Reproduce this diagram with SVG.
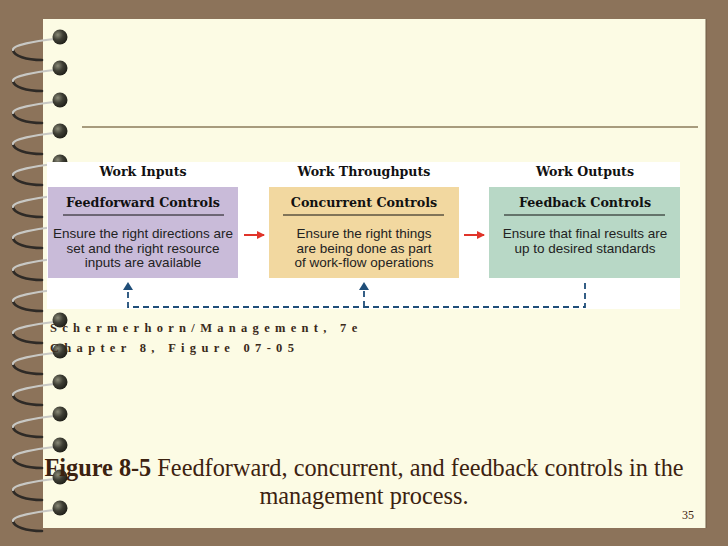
<svg xmlns="http://www.w3.org/2000/svg" width="728" height="546" viewBox="0 0 728 546">
<defs>
<style>
.hdr{font-family:"DejaVu Serif",serif;font-weight:bold;font-size:12.6px;fill:#111;text-anchor:middle}
.ttl{font-family:"DejaVu Serif",serif;font-weight:bold;font-size:12.7px;fill:#111;text-anchor:middle}
.body{font-family:"Liberation Sans",Arial,sans-serif;font-size:13.5px;fill:#222;text-anchor:middle}
.attr{font-family:"Liberation Serif","Times New Roman",serif;font-weight:bold;font-size:12.5px;fill:#3a2a1a;letter-spacing:5.3px}
.cap{font-family:"Liberation Serif","Times New Roman",serif;font-size:24.3px;fill:#3c2210}
.rule{stroke:#111;stroke-width:1}
.dash{stroke:#1f4e79;stroke-width:1.8;fill:none;stroke-dasharray:6 4}
.wtop{fill:none;stroke:#c8c8c4;stroke-width:2.2;stroke-linecap:round}
.wbot{fill:none;stroke:#2e2a26;stroke-width:2.6;stroke-linecap:round}
</style>
<radialGradient id="ball" cx="0.35" cy="0.35" r="0.7">
<stop offset="0" stop-color="#8a8a78"/>
<stop offset="0.5" stop-color="#3e3e34"/>
<stop offset="1" stop-color="#1e1e18"/>
</radialGradient>
<g id="ringShape">
<path class="wbot" d="M13 13 C14 19 26 23 42 23"/>
<path class="wtop" d="M54 2 C36 4 12 8 13 13"/>
<circle cx="60" cy="0" r="7.5" fill="url(#ball)"/>
</g>
<marker id="redHead" markerWidth="8" markerHeight="8" refX="7" refY="4" orient="auto" markerUnits="userSpaceOnUse">
<path d="M0 0 L8 4 L0 8 Z" fill="#e0342a"/>
</marker>
</defs>
<rect x="0" y="0" width="728" height="546" fill="#8c735a"/>
<rect x="43" y="19" width="663" height="509" fill="#fcfbe4"/>
<line x1="706" y1="19" x2="706" y2="528" stroke="#6e5a44" stroke-width="1"/>
<line x1="82" y1="127" x2="698" y2="127" stroke="#8b7b5b" stroke-width="1.5"/>
<g id="binding">
<use href="#ringShape" y="37"/>
<use href="#ringShape" y="68"/>
<use href="#ringShape" y="100"/>
<use href="#ringShape" y="131"/>
<use href="#ringShape" y="162"/>
<use href="#ringShape" y="194"/>
<use href="#ringShape" y="225"/>
<use href="#ringShape" y="257"/>
<use href="#ringShape" y="288"/>
<use href="#ringShape" y="320"/>
<use href="#ringShape" y="351"/>
<use href="#ringShape" y="382"/>
<use href="#ringShape" y="414"/>
<use href="#ringShape" y="445"/>
<use href="#ringShape" y="477"/>
<use href="#ringShape" y="508"/>
</g>
<rect x="47" y="162" width="633" height="147" fill="#ffffff"/>
<g id="feedforward">
<text class="hdr" x="143" y="176">Work Inputs</text>
<rect x="48" y="187" width="190" height="91" fill="#c9bbd9"/>
<text class="ttl" x="143" y="207">Feedforward Controls</text>
<line class="rule" x1="63" y1="215" x2="224" y2="215"/>
<text class="body" x="143" y="238">Ensure the right directions are</text>
<text class="body" x="143" y="252.5">set and the right resource</text>
<text class="body" x="143" y="267">inputs are available</text>
</g>
<g id="concurrent">
<text class="hdr" x="364" y="176">Work Throughputs</text>
<rect x="269" y="187" width="190" height="91" fill="#f2d8a0"/>
<text class="ttl" x="364" y="207">Concurrent Controls</text>
<line class="rule" x1="283" y1="215" x2="444" y2="215"/>
<text class="body" x="364" y="238">Ensure the right things</text>
<text class="body" x="364" y="252.5">are being done as part</text>
<text class="body" x="364" y="267">of work-flow operations</text>
</g>
<g id="feedback">
<text class="hdr" x="585" y="176">Work Outputs</text>
<rect x="489" y="187" width="191" height="91" fill="#b8d8c6"/>
<text class="ttl" x="585" y="207">Feedback Controls</text>
<line class="rule" x1="504" y1="215" x2="665" y2="215"/>
<text class="body" x="585" y="238">Ensure that final results are</text>
<text class="body" x="585" y="252.5">up to desired standards</text>
</g>
<g id="connectors">
<line x1="244" y1="235" x2="264" y2="235" stroke="#e0342a" stroke-width="2" marker-end="url(#redHead)"/>
<line x1="464" y1="235" x2="484" y2="235" stroke="#e0342a" stroke-width="2" marker-end="url(#redHead)"/>
<path class="dash" d="M585 283 L585 307 L128 307 L128 290"/>
<path class="dash" d="M364 307 L364 290"/>
<path d="M128 282 L123 290 L133 290 Z" fill="#1f4e79"/>
<path d="M364 282 L359 290 L369 290 Z" fill="#1f4e79"/>
</g>
<g id="attribution">
<text class="attr" x="50" y="332">Schermerhorn/Management, 7e</text>
<text class="attr" x="50" y="352">Chapter 8, Figure 07-05</text>
</g>
<g id="caption">
<text class="cap" x="364" y="476" text-anchor="middle"><tspan font-weight="bold">Figure 8-5</tspan> Feedforward, concurrent, and feedback controls in the</text>
<text class="cap" x="364" y="504" text-anchor="middle">management process.</text>
<text x="688" y="519" font-family="Liberation Serif,serif" font-size="12" fill="#3c2210" text-anchor="middle">35</text>
</g>
</svg>
